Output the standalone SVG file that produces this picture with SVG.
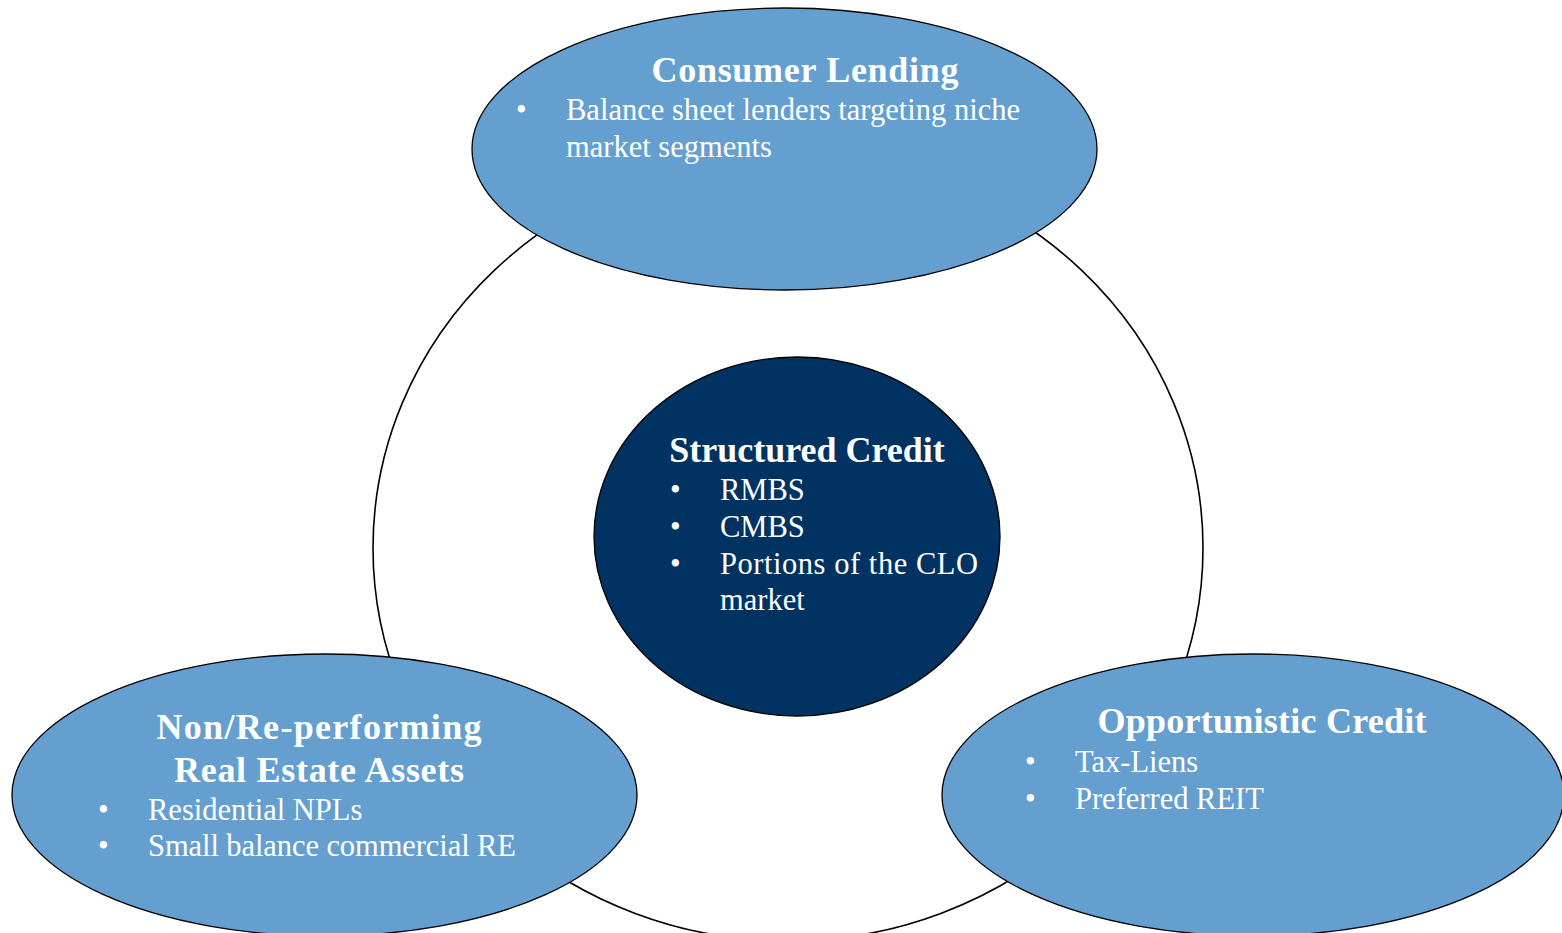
<svg xmlns="http://www.w3.org/2000/svg" width="1562" height="933" viewBox="0 0 1562 933">
<style>
.light{fill:#659fd0;stroke:#000;stroke-width:1.3}
.dark{fill:#003262;stroke:#000;stroke-width:1.3}
.ring{fill:none;stroke:#000;stroke-width:1.6}
.t{font-family:"Liberation Serif","Times New Roman",serif;fill:#fff}
.h{font-size:36px;font-weight:bold;text-anchor:middle}
.b{font-size:30.5px}
</style>
<rect width="1562" height="933" fill="#fff"/>
<g id="connectors">
<ellipse class="ring" cx="788" cy="548" rx="415" ry="393"/>
</g>
<g id="structured-credit">
<ellipse class="dark" cx="797" cy="536.5" rx="203" ry="179.5"/>
<text class="t h" x="807" y="462">Structured Credit</text>
<text class="t b" x="670" y="500">•</text><text class="t b" x="720" y="500">RMBS</text>
<text class="t b" x="670" y="537">•</text><text class="t b" x="720" y="537">CMBS</text>
<text class="t b" x="670" y="574">•</text><text class="t b" x="720" y="574" textLength="258" lengthAdjust="spacing">Portions of the CLO</text>
<text class="t b" x="720" y="610">market</text>
</g>
<g id="consumer-lending">
<ellipse class="light" cx="784.5" cy="149" rx="312.5" ry="141"/>
<text class="t h" x="805" y="82" textLength="307" lengthAdjust="spacing">Consumer Lending</text>
<text class="t b" x="516" y="120">•</text><text class="t b" x="566" y="120" textLength="454" lengthAdjust="spacing">Balance sheet lenders targeting niche</text>
<text class="t b" x="566" y="157">market segments</text>
</g>
<g id="non-re-performing">
<ellipse class="light" cx="324.5" cy="795" rx="312.5" ry="141"/>
<text class="t h" x="319" y="739" textLength="325" lengthAdjust="spacing">Non/Re-performing</text>
<text class="t h" x="319" y="782" textLength="290" lengthAdjust="spacing">Real Estate Assets</text>
<text class="t b" x="98" y="820">•</text><text class="t b" x="148" y="820">Residential NPLs</text>
<text class="t b" x="98" y="856">•</text><text class="t b" x="148" y="856" textLength="368" lengthAdjust="spacing">Small balance commercial RE</text>
</g>
<g id="opportunistic-credit">
<ellipse class="light" cx="1253" cy="795" rx="311" ry="141"/>
<text class="t h" x="1262" y="733" textLength="329" lengthAdjust="spacing">Opportunistic Credit</text>
<text class="t b" x="1025" y="772">•</text><text class="t b" x="1075" y="772">Tax-Liens</text>
<text class="t b" x="1025" y="809">•</text><text class="t b" x="1075" y="809">Preferred REIT</text>
</g>
</svg>
